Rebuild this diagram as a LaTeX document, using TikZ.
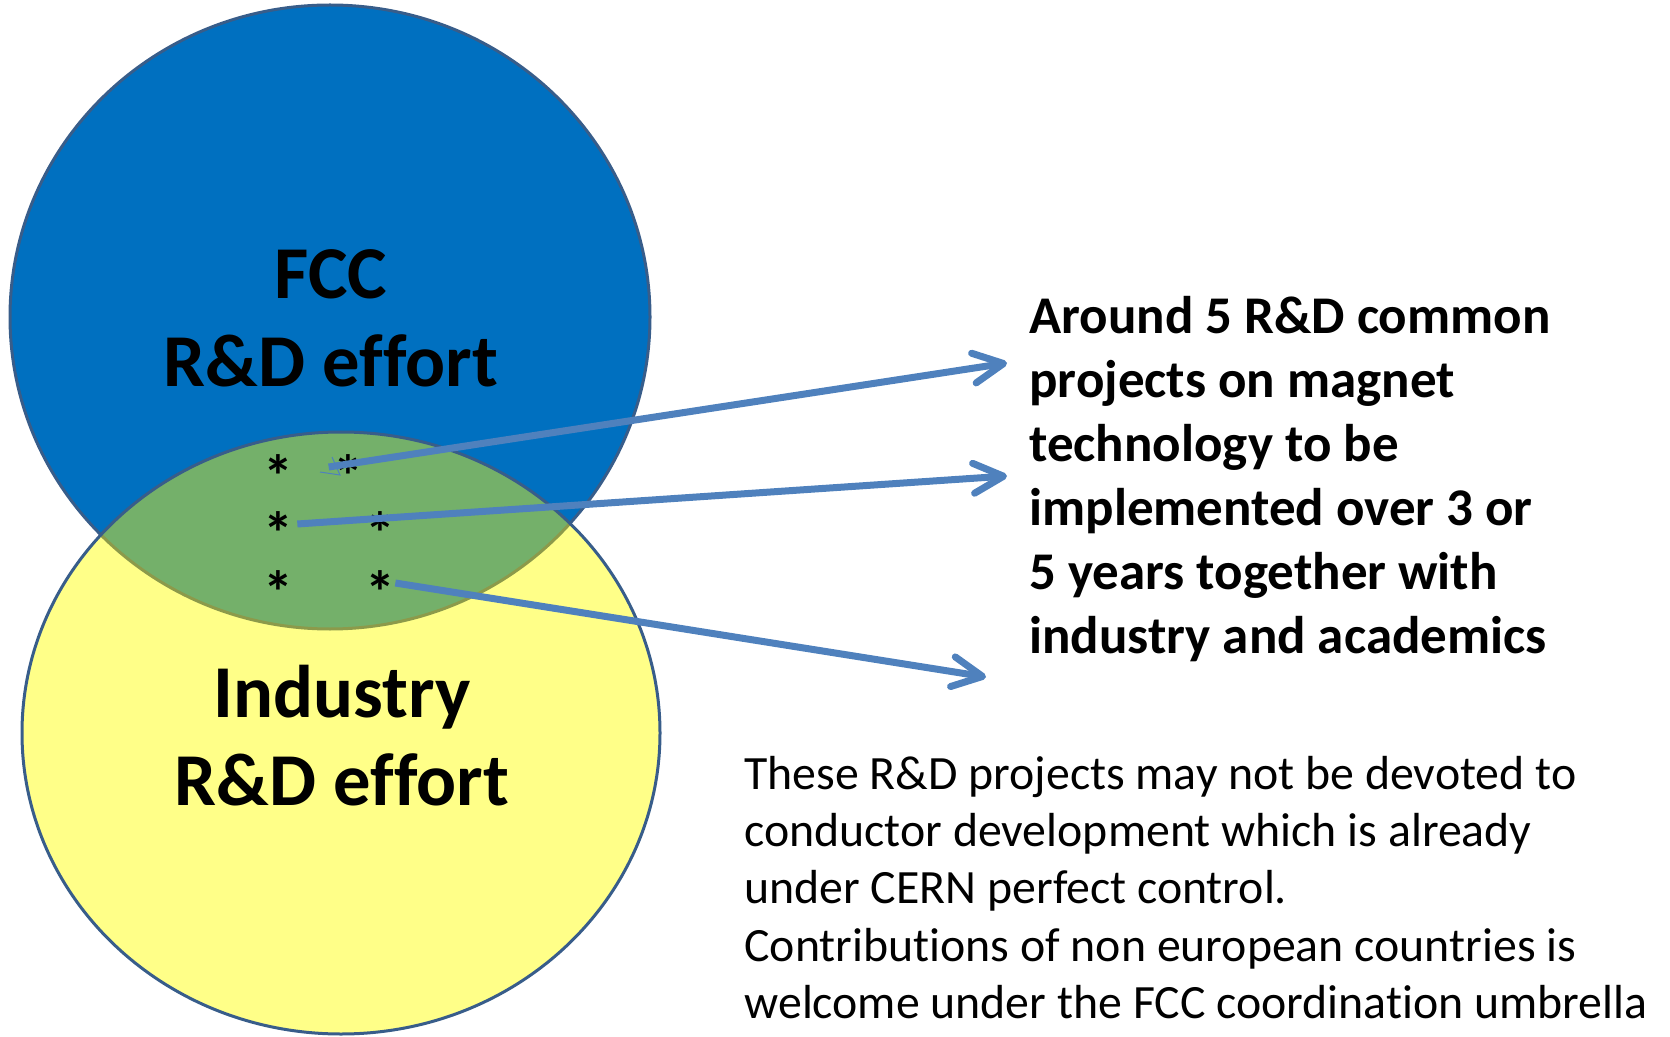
\documentclass[tikz,border=0pt]{standalone}
\usepackage{fontspec}
\setmainfont{Carlito}[Ligatures=NoCommon]
\usetikzlibrary{arrows.meta}

\definecolor{fccblue}{RGB}{0,112,192}
\definecolor{indyellow}{RGB}{255,255,136}
\definecolor{overlapgreen}{RGB}{116,176,106}
\definecolor{rimblue}{RGB}{56,93,138}
\definecolor{rimolive}{RGB}{140,154,74}
\definecolor{linkblue}{RGB}{79,129,189}

\begin{document}
\begin{tikzpicture}[x=0.5pt, y=-0.5pt,
bigtext/.style={align=center, inner sep=0pt, font=\fontsize{37.3}{44}\selectfont\bfseries},
sidetext/.style={align=left, anchor=north west, inner sep=0pt, font=\fontsize{26.5}{32}\selectfont\bfseries},
notetext/.style={align=left, anchor=north west, inner sep=0pt, font=\fontsize{23.9}{28.6}\selectfont},
starnode/.style={inner sep=0pt, font=\fontsize{30}{36}\selectfont\bfseries, text height=30.5pt, text depth=-22.5pt},
link/.style={draw=linkblue, line width=3.5pt, -{Straight Barb[round, length=15pt, width=15pt]}},
rim/.style={line width=1.5pt},
]
\useasboundingbox (0,0) rectangle (1670,1037);

%Circles
\filldraw[fill=fccblue, draw=rimblue, rim] (330,317) ellipse (320 and 312);
\fill[indyellow] (341,733) ellipse (319 and 301);
\begin{scope}
  \clip (330,317) ellipse (320 and 312);
  \fill[overlapgreen] (341,733) ellipse (319 and 301);
\end{scope}
\begin{scope}
  \clip (341,733) ellipse (319 and 301);
  \draw[rimolive, rim] (330,317) ellipse (320 and 312);
\end{scope}
\draw[rimblue, rim] (341,733) ellipse (319 and 301);

%Nodes
\node[bigtext]   (fcc)    at (331,318)  {FCC\\R\&D effort};
\node[bigtext]   (ind)    at (342,736)  {Industry\\R\&D effort};
\node[starnode]  (s1)     at (278,467)  {*};
\node[starnode]  (s2)     at (348,467)  {*};
\node[starnode]  (s3)     at (278,524)  {*};
\node[starnode]  (s4)     at (380,524)  {*};
\node[starnode]  (s5)     at (278,583)  {*};
\node[starnode]  (s6)     at (380,583)  {*};
\node[sidetext]  (common) at (1029,296) {Around 5 R\&D common\\projects on magnet\\technology to be\\implemented over 3 or\\5 years together with\\industry and academics};
\node[notetext]  (note)   at (744,756)  {These R\&D projects may not be devoted to\\conductor development which is already\\under CERN perfect control.\\Contributions of non european countries is\\welcome under the FCC coordination umbrella};

\coordinate (t1) at (1007,363);
\coordinate (t2) at (1007,476);
\coordinate (t3) at (986,677);

%Lines
\draw[linkblue, line width=0.5pt] (320,472) -- (340,475) -- (332,457);
\draw[link] ([xshift=-2pt]s2.west) -- (t1);
\draw[link] ([xshift=2pt]s3.east) -- (t2);
\draw[link] (s6.east) -- (t3);
\end{tikzpicture}
\end{document}
